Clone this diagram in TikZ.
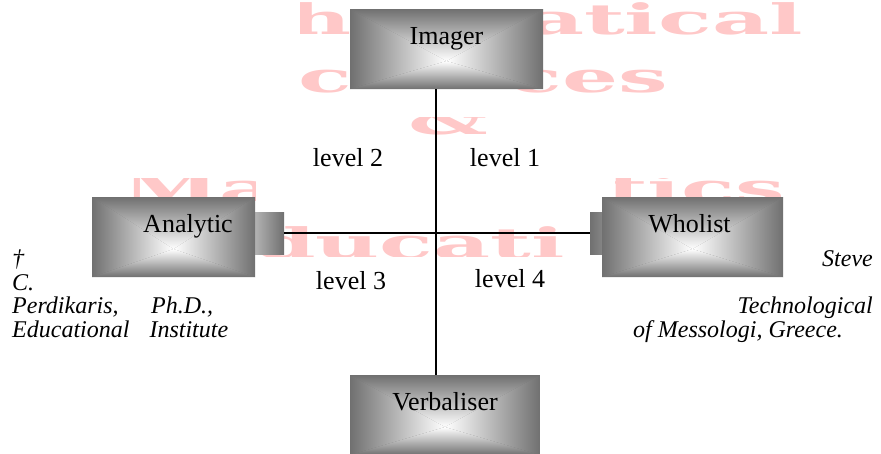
\documentclass[tikz,border=0pt]{standalone}
\usepackage{fontspec}
\setmainfont{Liberation Serif}
\newfontfamily\wmfont{DejaVu Serif}
\usetikzlibrary{calc}
\definecolor{boxedge}{RGB}{112,112,112}
\definecolor{tablight}{RGB}{190,190,190}
\definecolor{tabdark}{RGB}{140,140,140}
\definecolor{wmpink}{RGB}{255,200,200}
\newcommand\wmtext[1]{\wmfont\bfseries\fontsize{42}{42}\selectfont\scalebox{2.1}[1]{#1}}
\begin{document}
\begin{tikzpicture}[x=1pt,y=1pt,
  gboxpic/.style={path picture={
    \fill[boxedge] (path picture bounding box.south west) rectangle (path picture bounding box.north east);
    \coordinate (gc) at ($(path picture bounding box.center)+(0,-12pt)$);
    \shade[top color=boxedge,bottom color=white] (path picture bounding box.north west) -- (path picture bounding box.north east) -- (gc) -- cycle;
    \shade[top color=white,bottom color=boxedge] (path picture bounding box.south west) -- (path picture bounding box.south east) -- (gc) -- cycle;
    \shade[left color=boxedge,right color=white] (path picture bounding box.north west) -- (path picture bounding box.south west) -- (gc) -- cycle;
    \shade[left color=white,right color=boxedge] (path picture bounding box.north east) -- (path picture bounding box.south east) -- (gc) -- cycle;
  }},
  gbox/.style={rectangle, inner sep=0pt, text height=35pt, text depth=45pt, minimum width=#1, font=\fontsize{26}{30}\selectfont, gboxpic},
  tabbox/.style={rectangle, inner sep=0pt, minimum height=42pt},
  conn/.style={line width=1.6pt, black},
  lbl/.style={font=\fontsize{26}{30}\selectfont, inner sep=0pt},
  note/.style={font=\fontsize{24}{24}\selectfont\itshape, inner sep=0pt},
  wm/.style={inner sep=0pt, text=wmpink},
]
\useasboundingbox (0,0) rectangle (881,-453);
\fill[white] (0,0) rectangle (881,-453);

% watermark pieces (only the parts that show)
\begin{scope}
  \clip (300,0) rectangle (881,-52);
  \node[wm, anchor=base east] (wm1a) at (352,-34) {\wmtext{h}};
  \node[wm, anchor=base east] (wm1b) at (803,-34) {\wmtext{atical}};
\end{scope}
\begin{scope}
  \clip (300,-55) rectangle (881,-100);
  \node[wm, anchor=base east] (wm2a) at (352,-92) {\wmtext{c}};
  \node[wm, anchor=base east] (wm2b) at (668,-92) {\wmtext{ces}};
\end{scope}
\begin{scope}
  \clip (300,-117) rectangle (600,-136);
  \node[wm, anchor=base] (wm3) at (448,-134) {\wmtext{\&}};
\end{scope}
\begin{scope}
  \clip (0,-178) rectangle (255,-200) (615,-178) rectangle (881,-200);
  \node[wm, anchor=base west] (wm4a) at (122,-203) {\wmtext{Ma}};
  \node[wm, anchor=base east] (wm4b) at (785,-203) {\wmtext{tics}};
\end{scope}
\begin{scope}
  \clip (256,-215) rectangle (600,-256);
  \node[wm, anchor=base west] (wm5) at (254,-258) {\wmtext{ducati}};
\end{scope}

% boxes
\node[gbox=193pt] (imager) at (446.5,-49) {Imager};
\node[gbox=190pt] (verbaliser) at (445,-415) {Verbaliser};
\node[tabbox, minimum width=34pt, left color=tablight, right color=boxedge] (analytictab) at (267,-233) {};
\node[gbox=163pt] (analytic) at (173.5,-237) {\hspace*{29pt}Analytic};
\node[tabbox, minimum width=16pt, left color=boxedge, right color=tabdark] (wholisttab) at (598,-233) {};
\node[gbox=181pt] (wholist) at (692.5,-237) {Wholist\hspace*{6pt}};

% connectors
\draw[conn] (analytictab.east) -- (wholisttab.west);
\draw[conn] ([xshift=-10.5pt]imager.south) -- ([xshift=-10.5pt]imager.south |- verbaliser.north);

% level labels
\node[lbl, anchor=base] (l2) at (348,-166) {level 2};
\node[lbl, anchor=base] (l1) at (505,-166) {level 1};
\node[lbl, anchor=base] (l3) at (351,-289) {level 3};
\node[lbl, anchor=base] (l4) at (510,-287) {level 4};

% side notes
\node[note, anchor=base west] (dag) at (12,-266) {†};
\node[note, anchor=base west] (cname) at (12,-290) {C.};
\node[note, anchor=base west] (perd) at (12,-313.5) {\makebox[201pt][s]{Perdikaris, Ph.D.,}};
\node[note, anchor=base west] (educ) at (12,-337) {\makebox[216pt][s]{Educational Institute}};
\node[note, anchor=base east] (steve) at (873,-266) {Steve};
\node[note, anchor=base east] (tech) at (873,-313.5) {Technological};
\node[note, anchor=base west] (mess) at (633,-337) {of Messologi, Greece.};
\end{tikzpicture}
\end{document}
